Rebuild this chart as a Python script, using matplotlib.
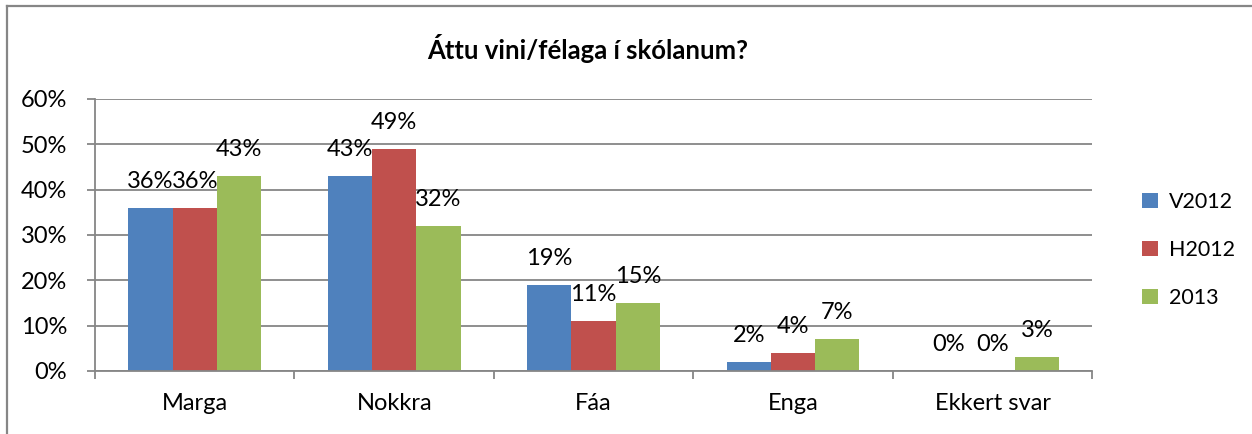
import numpy as np
import matplotlib
matplotlib.use("Agg")
import matplotlib.pyplot as plt
from matplotlib.patches import Patch
from matplotlib.lines import Line2D

plt.rcParams['font.family'] = ['Lato', 'DejaVu Sans']

# -----------------------------
# Data
# -----------------------------
title = "Áttu vini/félaga í skólanum?"
categories = ["Marga", "Nokkra", "Fáa", "Enga", "Ekkert svar"]
series_names = ["V2012", "H2012", "2013"]
v2012 = [36, 43, 19, 2, 0]
h2012 = [36, 49, 11, 4, 0]
y2013 = [43, 32, 15, 7, 3]
colors = ["#4F81BD", "#C0504D", "#9BBB59"]
yticks = [0, 10, 20, 30, 40, 50, 60]

GRID = "#868686"


def main():
    fig = plt.figure(figsize=(12.52, 4.34), dpi=100)
    ax = fig.add_axes([0.0759, 0.1452, 0.7965, 0.6267])

    x = np.arange(len(categories))
    width = 0.222
    for i, (vals, name, c) in enumerate(zip([v2012, h2012, y2013], series_names, colors)):
        pos = x + (i - 1) * width
        ax.bar(pos, vals, width=width, color=c, label=name, zorder=3)
        for px, v in zip(pos, vals):
            ax.annotate(f"{v}%", (px, v), xytext=(0, 19), textcoords="offset points",
                        ha="center", va="center", fontsize=17, zorder=4)

    ax.set_xlim(-0.5, len(categories) - 0.5)
    ax.set_ylim(0, 60)
    ax.set_yticks(yticks)
    ax.set_yticklabels([f"{t}%" for t in yticks], fontsize=17)
    ax.yaxis.grid(True, color=GRID, linewidth=1.3, zorder=0)

    # category labels centred, ticks on the boundaries
    ax.set_xticks(x)
    ax.set_xticklabels(categories, fontsize=17)
    ax.tick_params(axis="x", length=0, pad=16)
    ax.set_xticks(np.arange(len(categories) + 1) - 0.5, minor=True)
    ax.tick_params(axis="x", which="minor", length=6, width=1.3, color=GRID)
    ax.tick_params(axis="y", length=6, width=1.3, color=GRID, pad=14)

    for s in ["top", "right"]:
        ax.spines[s].set_visible(False)
    for s in ["left", "bottom"]:
        ax.spines[s].set_color(GRID)
        ax.spines[s].set_linewidth(1.3)
        ax.spines[s].set_zorder(5)

    fig.text(0.469, 0.889, title, ha="center", va="center", fontsize=18.5, fontweight="bold")

    handles = [Patch(facecolor=c, edgecolor="none") for c in colors]
    fig.legend(handles, series_names, loc="center left", bbox_to_anchor=(0.897, 0.424),
               frameon=False, fontsize=15.5, handlelength=0.72, handleheight=0.72,
               handletextpad=0.5, labelspacing=1.3)

    # outer chart frame (left and top edges visible)
    fig.add_artist(Line2D([0.0056, 0.0056], [0, 0.986], color=GRID, linewidth=1.6,
                          transform=fig.transFigure))
    fig.add_artist(Line2D([0.0056, 1.0], [0.986, 0.986], color=GRID, linewidth=1.6,
                          transform=fig.transFigure))

    fig.savefig("out.png", dpi=100)
    plt.close(fig)


if __name__ == "__main__":
    main()
